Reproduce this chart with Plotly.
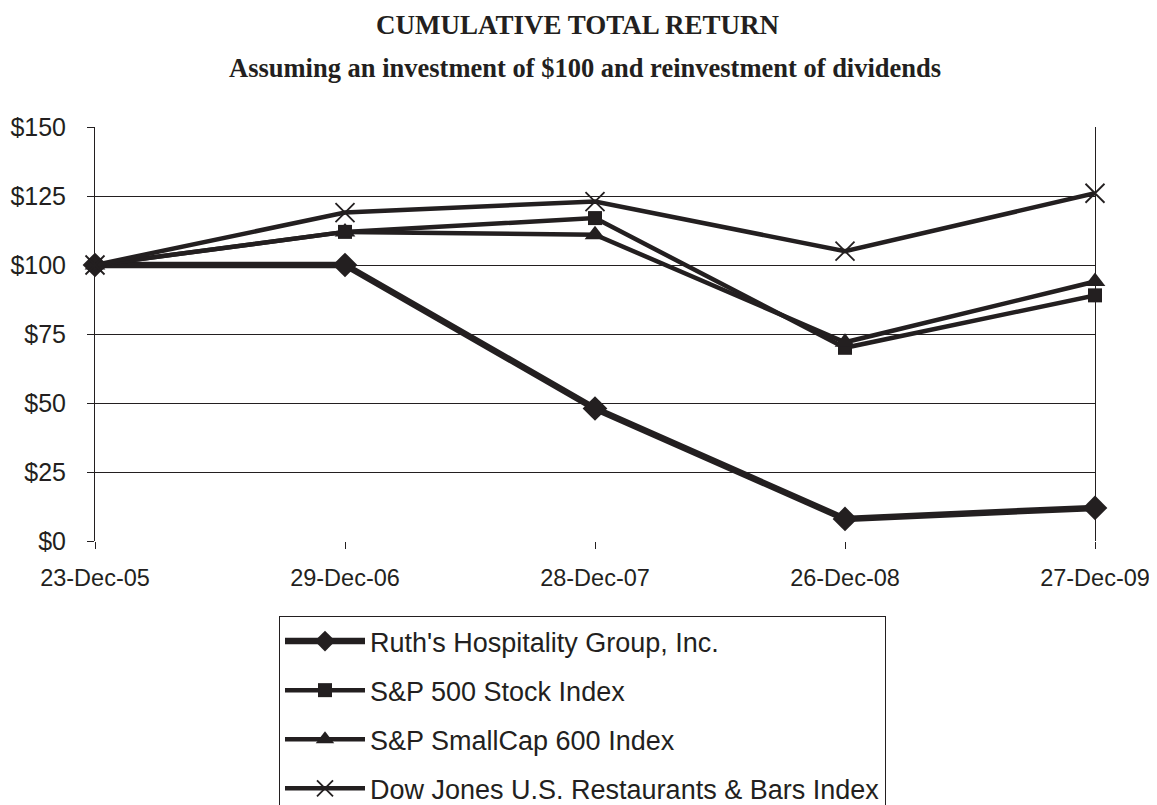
import plotly.graph_objects as go

dates = ["23-Dec-05", "29-Dec-06", "28-Dec-07", "26-Dec-08", "27-Dec-09"]
ruths = [100, 100, 48, 8, 12]
sp500 = [100, 112, 117, 70, 89]
smallcap600 = [100, 112, 111, 72, 94]
dow_restaurants = [100, 119, 123, 105, 126]
y_ticks = [0, 25, 50, 75, 100, 125, 150]
y_tick_labels = ["$0", "$25", "$50", "$75", "$100", "$125", "$150"]

ink = "#231f20"
sans = "Liberation Sans, Arial, Helvetica, sans-serif"
serif = "Liberation Serif, Times New Roman, serif"

series = [
    ("Ruth's Hospitality Group, Inc.", ruths, "diamond", 19, 6.5),
    ("S&P 500 Stock Index", sp500, "square", 14, 4.5),
    ("S&P SmallCap 600 Index", smallcap600, "triangle-up", 18, 4.5),
    ("Dow Jones U.S. Restaurants & Bars Index", dow_restaurants, "x-thin", 19, 4.5),
]

fig = go.Figure()
for i, (name, vals, sym, size, lw) in enumerate(series):
    marker = dict(symbol=sym, size=size, color=ink)
    if sym == "x-thin":
        marker["line"] = dict(color=ink, width=1.8)
    fig.add_trace(go.Scatter(
        x=dates, y=vals, name=name, mode="lines+markers",
        line=dict(color=ink, width=lw), marker=marker,
        cliponaxis=False, legendgroup=str(i),
    ))

# plot area: x 95..1095, y 127..541 on the page (page body has an 8px margin)
W, H = 1149, 797
L, R, T = 87, 62, 119
B = H - (541 - 8)
plot_w = W - L - R
plot_h = H - T - B

fig.update_layout(
    width=W, height=H,
    paper_bgcolor="white", plot_bgcolor="white",
    margin=dict(l=L, r=R, t=T, b=B, autoexpand=False),
    font=dict(family=sans, size=25, color=ink),
    showlegend=True,
    legend=dict(
        x=(279 - 95) / plot_w, xanchor="left",
        y=(541 - 616) / plot_h, yanchor="top",
        bordercolor=ink, borderwidth=1, bgcolor="white",
        font=dict(family=sans, size=27, color=ink),
        traceorder="grouped", tracegroupgap=11, itemwidth=80,
    ),
)

fig.add_annotation(text="<b>CUMULATIVE TOTAL RETURN</b>", xref="paper", yref="paper",
                   x=(578 - 95) / plot_w, y=1 + (127 - 25) / plot_h, showarrow=False,
                   xanchor="center", yanchor="middle",
                   font=dict(family=serif, size=27, color=ink))
fig.add_annotation(text="<b>Assuming an investment of $100 and reinvestment of dividends</b>",
                   xref="paper", yref="paper",
                   x=(585 - 95) / plot_w, y=1 + (127 - 68) / plot_h, showarrow=False,
                   xanchor="center", yanchor="middle",
                   font=dict(family=serif, size=26.5, color=ink))

fig.update_xaxes(
    type="category", range=[0, 4], showgrid=False, zeroline=False, automargin=False,
    showline=False, ticks="outside", ticklen=7, tickcolor=ink, tickwidth=1,
    tickfont=dict(family=sans, size=23.5, color=ink), ticklabelstandoff=9,
)
fig.update_yaxes(
    range=[0, 150], tickvals=y_ticks, ticktext=y_tick_labels, automargin=False,
    showgrid=True, gridcolor=ink, gridwidth=1, zeroline=False,
    showline=True, linecolor=ink, linewidth=1, mirror=True,
    ticks="outside", ticklen=7, tickcolor=ink, ticklabelstandoff=16,
    tickfont=dict(family=sans, size=25, color=ink),
)

fig.write_html("out.html")
